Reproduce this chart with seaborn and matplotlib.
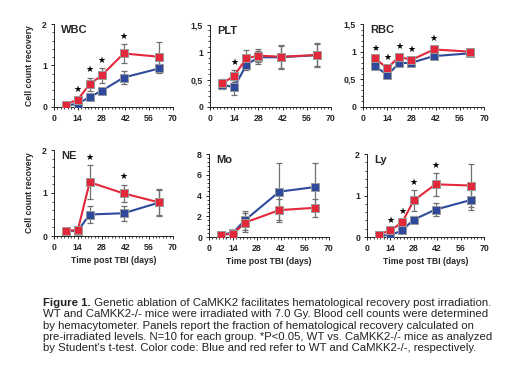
import matplotlib
matplotlib.use("Agg")
import matplotlib.pyplot as plt
from matplotlib.ticker import MultipleLocator, FuncFormatter
import seaborn as sns
import pandas as pd

sns.set_style("ticks")
plt.rcParams['font.family'] = ['Liberation Sans', 'DejaVu Sans']

# ---------------- data ----------------
days6 = [7, 14, 21, 28, 41, 62]
days5 = [7, 14, 21, 41, 62]

wbc_wt = [0.03, 0.08, 0.24, 0.39, 0.71, 0.93]
wbc_wt_err = [0.03, 0.04, 0.06, 0.07, 0.16, 0.10]
wbc_ko = [0.06, 0.18, 0.55, 0.76, 1.29, 1.21]
wbc_ko_err = [0.05, 0.06, 0.16, 0.17, 0.22, 0.36]
wbc_stars = [14, 21, 28, 41]

plt_wt = [0.41, 0.36, 0.77, 0.91, 0.91, 0.95]
plt_wt_err = [0.08, 0.14, 0.10, 0.12, 0.20, 0.20]
plt_ko = [0.43, 0.57, 0.89, 0.94, 0.92, 0.95]
plt_ko_err = [0.08, 0.11, 0.15, 0.12, 0.22, 0.22]
plt_stars = [14]

rbc_wt = [0.74, 0.58, 0.79, 0.80, 0.92, 0.97]
rbc_wt_err = [0.05, 0.04, 0.05, 0.06, 0.04, 0.04]
rbc_ko = [0.88, 0.70, 0.91, 0.85, 1.04, 1.00]
rbc_ko_err = [0.04, 0.05, 0.04, 0.05, 0.05, 0.04]
rbc_stars = [7, 14, 21, 28, 41]

ne_wt = [0.12, 0.12, 0.50, 0.53, 0.78]
ne_wt_err = [0.04, 0.04, 0.20, 0.17, 0.30]
ne_ko = [0.12, 0.14, 1.25, 0.99, 0.78]
ne_ko_err = [0.04, 0.04, 0.39, 0.20, 0.31]
ne_stars = [21, 41]

mo_wt = [0.23, 0.42, 1.62, 4.37, 4.82]
mo_wt_err = [0.10, 0.15, 0.90, 2.75, 2.36]
mo_ko = [0.23, 0.29, 1.39, 2.59, 2.82]
mo_ko_err = [0.10, 0.12, 0.90, 1.10, 0.85]
mo_stars = []

ly_wt = [0.04, 0.04, 0.16, 0.42, 0.66, 0.89]
ly_wt_err = [0.03, 0.03, 0.05, 0.08, 0.15, 0.24]
ly_ko = [0.06, 0.16, 0.35, 0.88, 1.27, 1.24]
ly_ko_err = [0.04, 0.05, 0.08, 0.25, 0.27, 0.52]
ly_stars = [14, 21, 28, 41]

x_ticks = [0, 14, 28, 42, 56, 70]

BLUE = "#2f4a9c"
RED = "#e2283a"

panels = [
    dict(name="WBC", days=days6, wt=wbc_wt, wte=wbc_wt_err, ko=wbc_ko, koe=wbc_ko_err,
         stars=wbc_stars, ymax=2, ystep=1, box=(54, 24, 173, 107), ylab=True, xlab=False),
    dict(name="PLT", days=days6, wt=plt_wt, wte=plt_wt_err, ko=plt_ko, koe=plt_ko_err,
         stars=plt_stars, ymax=1.5, ystep=0.5, box=(210, 25, 331, 107), ylab=False, xlab=False),
    dict(name="RBC", days=days6, wt=rbc_wt, wte=rbc_wt_err, ko=rbc_ko, koe=rbc_ko_err,
         stars=rbc_stars, ymax=1.5, ystep=0.5, box=(363, 24, 484, 107), ylab=False, xlab=False),
    dict(name="NE", days=days5, wt=ne_wt, wte=ne_wt_err, ko=ne_ko, koe=ne_ko_err,
         stars=ne_stars, ymax=2, ystep=1, box=(54, 150, 173, 236), ylab=True, xlab=True),
    dict(name="Mo", days=days5, wt=mo_wt, wte=mo_wt_err, ko=mo_ko, koe=mo_ko_err,
         stars=mo_stars, ymax=8, ystep=2, box=(209, 154, 329, 237), ylab=False, xlab=True),
    dict(name="Ly", days=days6, wt=ly_wt, wte=ly_wt_err, ko=ly_ko, koe=ly_ko_err,
         stars=ly_stars, ymax=2, ystep=1, box=(367, 154, 484, 237), ylab=False, xlab=True),
]

W, H = 520, 377
fig = plt.figure(figsize=(W / 100, H / 100), dpi=100)


def fmt(v, pos):
    return ("%g" % v).replace(".", ",")


for p in panels:
    x0, y0, x1, y1 = p["box"]
    ax = fig.add_axes([x0 / W, 1 - y1 / H, (x1 - x0) / W, (y1 - y0) / H])
    df = pd.DataFrame({
        "day": list(p["days"]) * 2,
        "value": list(p["wt"]) + list(p["ko"]),
        "group": ["WT"] * len(p["days"]) + ["KO"] * len(p["days"]),
    })
    for vals, errs in ((p["wt"], p["wte"]), (p["ko"], p["koe"])):
        ax.errorbar(p["days"], vals, yerr=errs, fmt="none", ecolor="#707070",
                    elinewidth=0.9, capsize=2, capthick=0.9, zorder=1)
    sns.lineplot(data=df, x="day", y="value", hue="group", hue_order=["WT", "KO"],
                 palette={"WT": BLUE, "KO": RED}, marker="s", markersize=5.5,
                 markeredgewidth=0.7, linewidth=1.5, legend=False, ax=ax, zorder=3)
    for ln in ax.lines:
        if ln.get_marker() == "s":
            ln.set_markeredgecolor("#9a9a9a")
    # significance stars
    for d in p["stars"]:
        i = list(p["days"]).index(d)
        top = max(p["ko"][i] + p["koe"][i], p["wt"][i] + p["wte"][i])
        ax.text(d, top + p["ymax"] * 0.04, "★", ha="center", va="bottom",
                fontsize=6.5, color="black", family="DejaVu Sans")
    ax.set_xlim(0, 70)
    ax.set_ylim(0, p["ymax"])
    ax.set_xticks(x_ticks)
    ax.xaxis.set_minor_locator(MultipleLocator(2))
    ax.yaxis.set_major_locator(MultipleLocator(p["ystep"]))
    ax.yaxis.set_minor_locator(MultipleLocator(p["ystep"] / 5))
    ax.yaxis.set_major_formatter(FuncFormatter(fmt))
    ax.tick_params(which="major", length=2.5, width=0.7, labelsize=6.3, pad=2.5)
    ax.tick_params(which="minor", length=1.5, width=0.6)
    for lab in ax.get_xticklabels() + ax.get_yticklabels():
        lab.set_fontweight("bold")
    for s in ("top", "right"):
        ax.spines[s].set_visible(False)
    for s in ("left", "bottom"):
        ax.spines[s].set_linewidth(0.7)
    ax.text(0.06, 0.99, p["name"], transform=ax.transAxes, ha="left", va="top",
            fontsize=8, fontweight="bold")
    ax.set_ylabel("Cell count recovery" if p["ylab"] else "", fontsize=6.2,
                  fontweight="bold", labelpad=6)
    ax.set_xlabel("Time post TBI (days)" if p["xlab"] else "", fontsize=6.2,
                  fontweight="bold", labelpad=3)

# ---------------- caption ----------------
cap_first_bold = "Figure 1."
cap_lines = [
    " Genetic ablation of CaMKK2 facilitates hematological recovery post irradiation.",
    "WT and CaMKK2-/- mice were irradiated with 7.0 Gy. Blood cell counts were determined",
    "by hemacytometer. Panels report the fraction of hematological recovery calculated on",
    "pre-irradiated levels. N=10 for each group. *P<0.05, WT vs. CaMKK2-/- mice as analyzed",
    "by Student's t-test. Color code: Blue and red refer to WT and CaMKK2-/-, respectively.",
]
cap_x = 43
cap_y0 = 303
cap_dy = 11.3
cap_fs = 8.2
tb = fig.text(cap_x / W, 1 - cap_y0 / H, cap_first_bold, fontsize=cap_fs,
              fontweight="bold", ha="left", va="center", color="#222222")
fig.canvas.draw()
bb = tb.get_window_extent(renderer=fig.canvas.get_renderer())
fig.text(bb.x1 / W, 1 - cap_y0 / H, cap_lines[0], fontsize=cap_fs, ha="left",
         va="center", color="#222222")
for k, line in enumerate(cap_lines[1:], start=1):
    fig.text(cap_x / W, 1 - (cap_y0 + k * cap_dy) / H, line, fontsize=cap_fs,
             ha="left", va="center", color="#222222")

fig.savefig("out.png", dpi=100)
